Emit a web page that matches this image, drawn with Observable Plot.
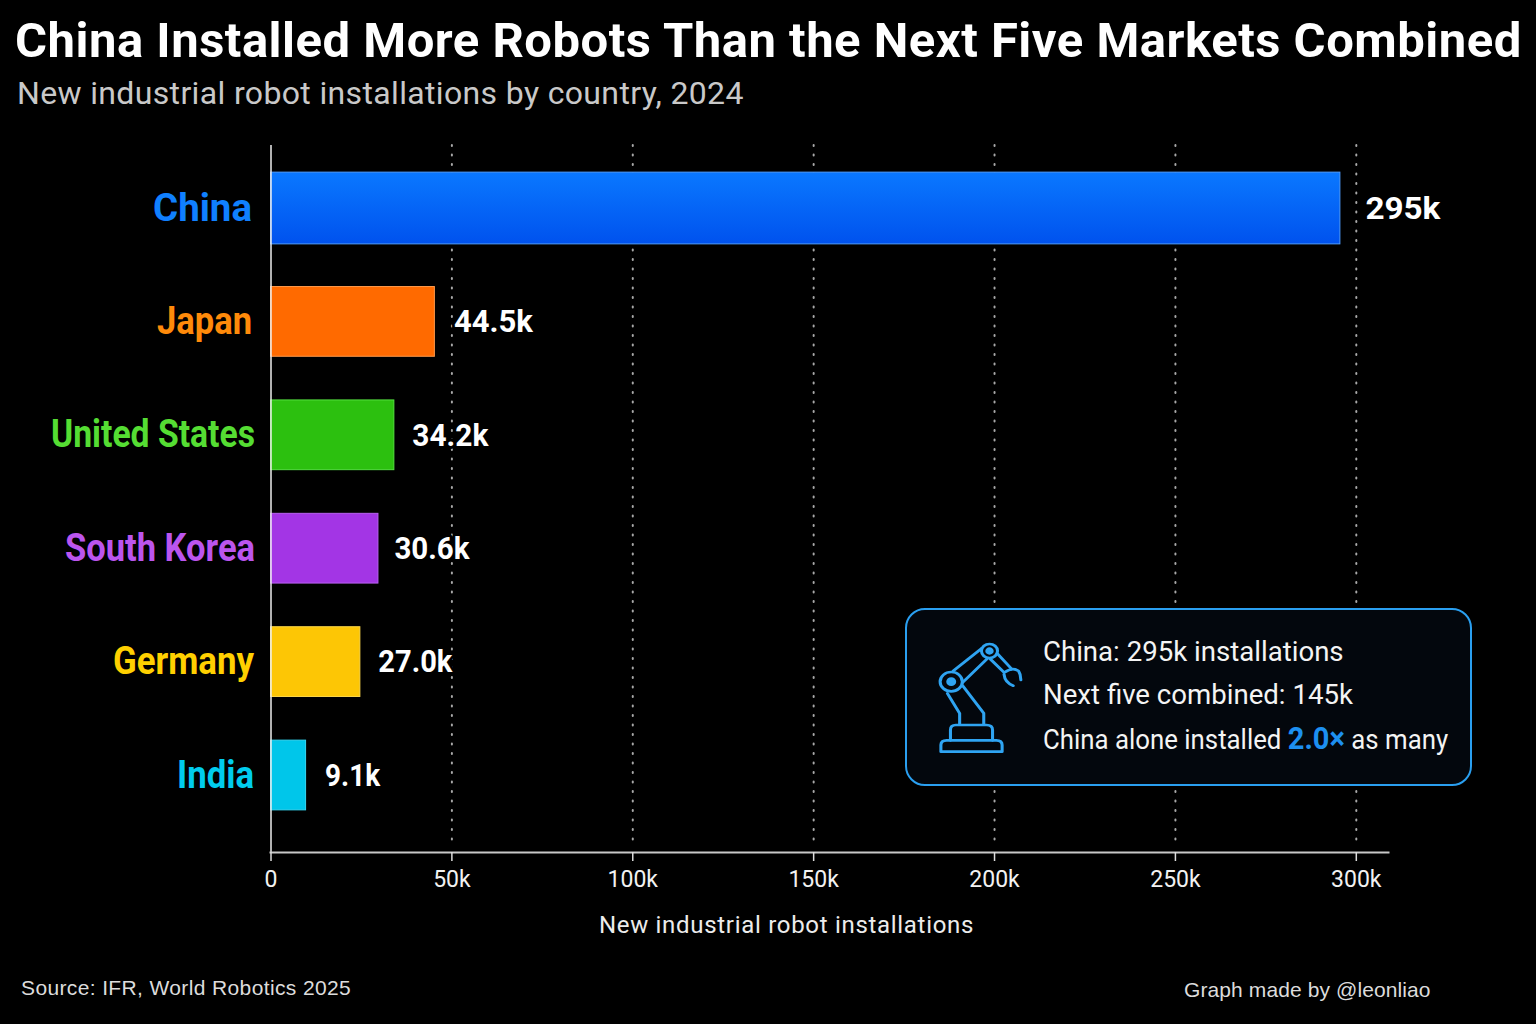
<!DOCTYPE html>
<html><head><meta charset="utf-8">
<script src="https://cdn.jsdelivr.net/npm/d3@7"></script>
<script src="https://cdn.jsdelivr.net/npm/@observablehq/plot@0.6"></script>
<style>
html,body{margin:0;padding:0;background:#000;width:1536px;height:1024px;overflow:hidden}
#page{position:relative;width:1536px;height:1024px;background:#000;font-family:Roboto,sans-serif}
#head{position:absolute;left:0;top:0;width:1536px;height:125px}
#title{position:absolute;left:15px;top:13px;margin:0;font:700 49px/56px Roboto,sans-serif;letter-spacing:.5px;color:#fff;white-space:nowrap}
#sub{position:absolute;left:17px;top:73px;margin:0;font:400 32px/40px Roboto,sans-serif;letter-spacing:.35px;color:#c9c9c9;white-space:nowrap}
#chart{position:absolute;left:0;top:125px}
#box{position:absolute;left:905px;top:608px;width:563px;height:174px;border:2px solid #2a9ff0;border-radius:20px;background:#03070d}
#box svg{position:absolute;left:-17px;top:-15px}
.ln{position:absolute;left:136px;font:400 27.6px/34px Roboto,sans-serif;color:#f4f4f4;white-space:nowrap;transform-origin:0 50%}
.ln b{color:#1d8ff0;font-weight:700;font-size:31px}
.foot{position:absolute;font:400 21px/26px "Liberation Sans",sans-serif;color:#dcdcdc;white-space:nowrap}
.axt text{letter-spacing:.7px}
</style></head>
<body><div id="page">
<div id="head">
<h1 id="title">China Installed More Robots Than the Next Five Markets Combined</h1>
<p id="sub">New industrial robot installations by country, 2024</p>
</div>
<div id="chart"></div>
<div id="box">
<svg width="600" height="200" viewBox="0 0 1568 600" preserveAspectRatio="none" fill="none" stroke="#2fa4f2" stroke-width="8" stroke-linejoin="round" stroke-linecap="round">
<path d="M133 470V450Q133 436 148 436H278Q293 436 293 450V470Z"/>
<path d="M158 436V405Q158 390 172 390H252Q268 390 268 405V436"/>
<path d="M182 388V355L150 295M245 388V355L190 272"/>
<circle cx="160" cy="260" r="29"/><circle cx="160" cy="260" r="9" fill="#2fa4f2"/>
<path d="M165 228L240 160M190 262L255 190"/>
<circle cx="260" cy="168" r="21"/><circle cx="260" cy="168" r="7" fill="#2fa4f2"/>
<path d="M280 175L318 222M262 192L298 232"/>
<path d="M300 232Q320 215 336 228Q342 238 342 255M298 238Q300 262 322 272"/>
</svg>
<div class="ln" style="top:25px">China: 295k installations</div>
<div class="ln" style="top:68px">Next five combined: 145k</div>
<div class="ln" style="top:112px;transform:scaleX(.935)">China alone installed <b>2.0×</b> as many</div>
</div>
<div class="foot" style="left:21px;top:975px;letter-spacing:.37px">Source: IFR, World Robotics 2025</div>
<div class="foot" style="left:1184px;top:977px;letter-spacing:.1px">Graph made by @leonliao</div>
</div>
<script>
const countries = ["China","Japan","United States","South Korea","Germany","India"];
const barLengths = [295.6,45.3,34.1,29.7,24.7,9.7];
const valueLabels = ["295k","44.5k","34.2k","30.6k","27.0k","9.1k"];
const barColors = ["url(#chinaGrad)","#ff6a00","#2cc00f","#a335e5","#fdc605","#00c6ea"];
const barEdges = ["#4f9dff","#ff9a4a","#55e040","#b860f0","#ffd94a","#35d8f5"];
const labelColors = ["#1080ff","#ff8a0a","#55dd33","#bb55ee","#ffd000","#00ccee"];
const tickValues = [0,50,100,150,200,250,300];
const axisTitle = "New industrial robot installations";
const labelGap = [19,19,16,16,17,17];
const labelFit = [99,95,204,190,141,77];
const valueGap = [25,19,18,16,18,19];
const valueFit = [75,79,76,75,74,55];

const rows = countries.map((c,i)=>({country:c,length:barLengths[i],label:valueLabels[i],fill:barColors[i],edge:barEdges[i],color:labelColors[i],gap:labelGap[i],vgap:valueGap[i],fit:labelFit[i],vfit:valueFit[i],grow:i===0?1:0}));
const T = 'Roboto, sans-serif';

const plot = Plot.plot({
  width:1536, height:840, marginTop:20, marginBottom:113, marginLeft:270, marginRight:148,
  style:{background:"#000",color:"#fff",fontFamily:T,overflow:"visible"},
  x:{domain:[0,308.9],range:[270.5,1388],axis:null},
  y:{domain:countries,range:[26.3,706.7],paddingInner:0.385,paddingOuter:0.1925,round:false,axis:null},
  color:{type:"identity"},
  marks:[
    ()=>{const s=d3.create("svg:defs");const g=s.append("linearGradient").attr("id","chinaGrad").attr("x1",0).attr("x2",0).attr("y1",0).attr("y2",1);
      g.append("stop").attr("offset",0).attr("stop-color","#0a78ff");g.append("stop").attr("offset",1).attr("stop-color","#0052ee");return s.node();},
    Plot.ruleX(tickValues.slice(1),{x:d=>d,stroke:"#a8a8a8",strokeWidth:2,strokeDasharray:"1 8.5",strokeLinecap:"round",insetBottom:10}),
    ...rows.map(r=>Plot.barX([r],{x:"length",y:"country",fill:"fill",stroke:"edge",strokeWidth:1,insetTop:-r.grow,insetBottom:-r.grow})),
    Plot.ruleX([0],{x:d=>d,stroke:"#eee",strokeWidth:1.5}),
    Plot.frame({anchor:"bottom",stroke:"#c8c8c8",strokeWidth:2}),
    Plot.axisX({ticks:tickValues,tickFormat:d=>d===0?"0":d+"k",tickSize:9,tickPadding:9,stroke:"#ddd",strokeWidth:1.5,fontSize:23,fill:"#f2f2f2",label:null,marginBottom:113}),
    ...rows.map(r=>Plot.text([r],{x:()=>0,y:"country",text:"country",textAnchor:"end",dx:-r.gap,fill:r.color,fontSize:38,fontWeight:700,className:"cat"})),
    ...rows.map(r=>Plot.text([r],{x:"length",y:"country",text:"label",textAnchor:"start",dx:r.vgap,fill:"#fff",fontSize:32,fontWeight:700,stroke:"#000",strokeWidth:6,paintOrder:"stroke",className:"val"})),
    Plot.text([axisTitle],{x:()=>142.5,frameAnchor:"bottom",text:d=>d,dy:73,fontSize:24,fill:"#ececec",lineAnchor:"middle",className:"axt"})
  ]
});
document.getElementById("chart").append(plot);
// squeeze the bold labels to the reference's condensed widths
d3.select(plot).selectAll("g.cat").each(function(){
  const t=this.querySelector("text");const r=rows.find(x=>x.country===t.textContent);
  t.setAttribute("textLength",r.fit);t.setAttribute("lengthAdjust","spacingAndGlyphs");
});
d3.select(plot).selectAll("g.val").each(function(){
  const t=this.querySelector("text");const r=rows.find(x=>x.label===t.textContent);
  t.setAttribute("textLength",r.vfit);t.setAttribute("lengthAdjust","spacingAndGlyphs");
});
</script>
</body></html>
